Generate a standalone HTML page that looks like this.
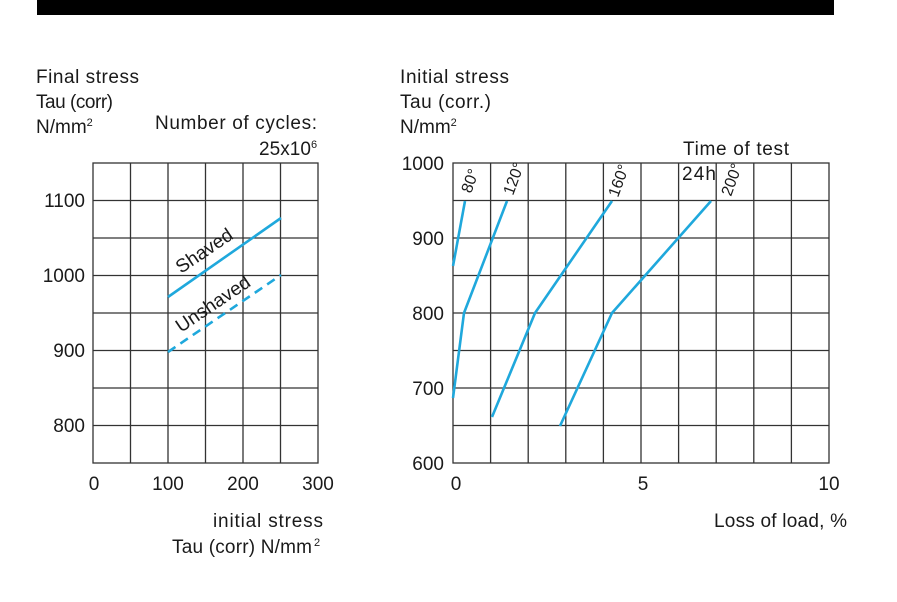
<!DOCTYPE html>
<html><head><style>
body{margin:0;background:#fff}
svg text{font-family:"Liberation Sans",sans-serif;fill:#1a1a1a}
</style></head><body>
<svg width="897" height="597" viewBox="0 0 897 597" xmlns="http://www.w3.org/2000/svg">
<rect x="37" y="0" width="797" height="15" fill="#000"/>
<g font-size="19">
<text x="36" y="83" textLength="103">Final stress</text>
<text x="36" y="108" textLength="77">Tau (corr)</text>
<text x="36" y="133">N/mm<tspan font-size="11" dy="-7">2</tspan></text>
<text x="155" y="129" textLength="162">Number of cycles:</text>
<text x="259" y="155" textLength="52">25x10</text><text x="311" y="148" font-size="11">6</text>
<text x="400" y="83" textLength="109">Initial stress</text>
<text x="400" y="108" textLength="91">Tau (corr.)</text>
<text x="400" y="133">N/mm<tspan font-size="11" dy="-7">2</tspan></text>
<text x="683" y="155" textLength="106">Time of test</text>
<text x="682" y="180" textLength="34">24h</text>
</g>
<g stroke="#333" stroke-width="1.3" fill="none">
<rect x="93" y="163" width="225" height="300"/>
<path d="M130.5 163V463M168 163V463M205.5 163V463M243 163V463M280.5 163V463"/>
<path d="M93 200.5H318M93 238H318M93 275.5H318M93 313H318M93 350.5H318M93 388H318M93 425.5H318"/>
</g>
<g font-size="19" text-anchor="end">
<text x="85" y="207">1100</text><text x="85" y="282">1000</text><text x="85" y="357">900</text><text x="85" y="432">800</text>
</g>
<g font-size="19" text-anchor="middle">
<text x="94" y="490">0</text><text x="168" y="490">100</text><text x="243" y="490">200</text><text x="318" y="490">300</text>
</g>
<g font-size="19">
<text x="213" y="527" textLength="110">initial stress</text>
<text x="172" y="553" textLength="140">Tau (corr) N/mm</text><text x="314" y="546" font-size="11">2</text>
</g>
<g stroke="#1fa8dc" stroke-width="2.6" fill="none">
<path d="M168 297L281 218"/>
<path d="M168 352L281 275" stroke-dasharray="9,6"/>
</g>
<text x="181" y="274" font-size="19" transform="rotate(-34 181 274)">Shaved</text>
<text x="181" y="333" font-size="19" transform="rotate(-34 181 333)">Unshaved</text>
<g stroke="#333" stroke-width="1.3" fill="none">
<rect x="453" y="163" width="376" height="300"/>
<path d="M490.6 163V463M528.2 163V463M565.8 163V463M603.4 163V463M641 163V463M678.6 163V463M716.2 163V463M753.8 163V463M791.4 163V463"/>
<path d="M453 200.5H829M453 238H829M453 275.5H829M453 313H829M453 350.5H829M453 388H829M453 425.5H829"/>
</g>
<g font-size="19" text-anchor="end">
<text x="444" y="170">1000</text><text x="444" y="245">900</text><text x="444" y="320">800</text><text x="444" y="395">700</text><text x="444" y="470">600</text>
</g>
<g font-size="19" text-anchor="middle">
<text x="456" y="490">0</text><text x="643" y="490">5</text><text x="829" y="490">10</text>
</g>
<text x="714" y="527" font-size="19" textLength="133">Loss of load, %</text>
<g stroke="#1fa8dc" stroke-width="2.6" fill="none">
<path d="M465 201L453 266"/>
<path d="M507 201L464 313L453 398"/>
<path d="M612 201L535 313L492 417"/>
<path d="M711 201L612 313L560 426"/>
</g>
<g font-size="16">
<text transform="translate(471 194) rotate(-70)">80°</text>
<text transform="translate(513 196) rotate(-70)">120°</text>
<text transform="translate(618 198) rotate(-70)">160°</text>
<text transform="translate(731 197) rotate(-70)">200°</text>
</g>
</svg>
</body></html>
